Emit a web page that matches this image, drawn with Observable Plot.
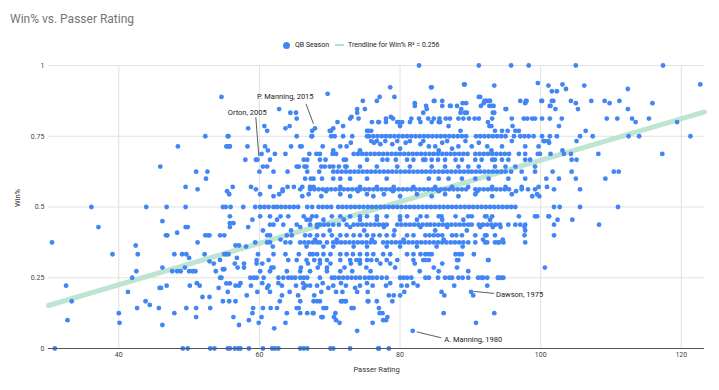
<!DOCTYPE html>
<html><head><meta charset="utf-8">
<script src="https://cdn.jsdelivr.net/npm/d3@7"></script>
<script src="https://cdn.jsdelivr.net/npm/@observablehq/plot@0.6"></script>
<style>
body{margin:0;background:#fff;font-family:Roboto,"Liberation Sans",Arial,sans-serif;}
#wrap{position:relative;width:719px;height:390px;overflow:hidden;background:#fff;}
#head{position:relative;width:719px;height:55px;}
#title{position:absolute;left:10px;top:12px;font-size:12px;color:#757575;line-height:14px;white-space:nowrap;}
#legend{position:absolute;left:283px;top:40px;height:10px;display:flex;align-items:center;font-size:7px;color:#222;white-space:nowrap;}
.ldot{width:7px;height:7px;border-radius:50%;background:#4285F4;margin-right:5px;}
.lline{width:9px;height:2.5px;background:#b7e1cd;margin:0 4px 0 6px;}
#chart svg{display:block;}
</style></head>
<body>
<div id="wrap">
  <div id="head">
    <div id="title">Win% vs. Passer Rating</div>
    <div id="legend"><span class="ldot"></span><span id="lg1"></span><span class="lline"></span><span id="lg2"></span></div>
  </div>
  <div id="chart"></div>
</div>
<script>
// ---- text ----
const titleText = "Win% vs. Passer Rating";
const seriesName = "QB Season";
const trendName = "Trendline for Win% R² = 0.256";
const xLabel = "Passer Rating";
const yLabel = "Win%";

// ---- axes ----
const xDomain = [30, 123.3];
const xTicks = [40, 60, 80, 100, 120];
const yTicks = [0, 0.25, 0.5, 0.75, 1];

// ---- trendline ----
const trendSlope = 0.00733;
const trendIntercept = -0.068;

// ---- annotated seasons ----
const annoNames = ["P. Manning, 2015", "Orton, 2005", "Dawson, 1975", "A. Manning, 1980"];
const annoRatings = [67.9, 59.7, 90.1, 81.8];
const annoWins = [0.778, 0.667, 0.2, 0.0625];

// ---- QB seasons: passer ratings grouped by win% ----
const w1000 = [82.7, 91.2, 95.8, 98.3, 105.0, 117.4];
const w0750 = [52.3, 55.5, 55.6, 65.3, 67.4, 67.5, 70.2, 70.7, 71.9, 73.2, 75.3, 75.6, 76.2, 76.8, 77.4, 78.0, 78.6, 79.2, 79.8, 80.4, 81.0, 81.6, 82.2, 82.8, 83.4, 84.0, 84.6, 85.2, 85.8, 86.4, 87.0, 87.6, 88.2, 88.8, 89.4, 90.8, 91.4, 92.0, 92.6, 93.2, 93.8, 94.4, 95.0, 96.2, 97.1, 97.7, 98.3, 99.0, 100.2, 101.3, 102.3, 105.6, 107.4, 112.5, 114.0, 121.3];
const w0688 = [60.3, 62.2, 63.7, 67.1, 68.1, 68.6, 70.4, 70.9, 73.4, 74.0, 74.6, 75.2, 75.8, 76.4, 77.0, 77.6, 78.2, 78.8, 79.4, 80.0, 80.6, 81.2, 81.8, 82.4, 83.0, 83.6, 84.2, 84.8, 85.4, 86.0, 86.6, 87.2, 87.8, 88.4, 89.0, 89.6, 90.7, 91.3, 91.9, 92.5, 93.1, 93.7, 94.3, 94.9, 95.5, 96.9, 97.8, 99.6, 99.9, 101.4, 103.3, 104.3, 108.2, 117.3];
const w0667 = [58.0, 59.5, 61.5, 66.3, 66.8, 68.6, 69.4, 72.0, 72.3, 75.3, 77.5, 78.2, 79.4, 81.0, 81.9, 83.3, 83.6, 84.5, 85.4, 86.4, 87.9, 88.8, 90.7, 91.6, 93.1, 93.5, 94.5, 95.4, 97.8, 98.5, 104.4, 105.1];
const w0643 = [45.9, 60.5, 61.1, 65.3, 65.6, 66.4, 66.7, 68.8, 69.3, 70.0, 70.5, 71.3, 72.2, 72.4, 74.3, 76.7, 79.6, 81.4, 84.5, 86.4, 88.3, 89.7, 91.2, 93.5, 95.0, 96.4, 99.2];
const w0625 = [51.0, 52.6, 60.0, 62.0, 64.0, 66.8, 68.5, 70.5, 71.1, 71.7, 72.3, 72.9, 73.5, 74.1, 74.7, 75.3, 75.9, 76.5, 77.1, 77.7, 78.3, 78.9, 79.5, 80.1, 80.7, 81.3, 81.9, 82.5, 83.1, 83.7, 84.3, 84.9, 85.5, 86.1, 86.7, 87.3, 87.9, 88.5, 89.1, 89.7, 90.2, 90.8, 91.4, 92.0, 92.6, 93.2, 93.8, 94.4, 95.0, 95.8, 97.3, 99.2, 101.7, 104.4, 110.4, 111.1];
const w0600 = [52.4, 66.5, 67.3, 67.7, 68.9, 70.5, 71.5, 72.9, 75.3, 78.1, 84.1, 85.5, 86.9, 88.8, 90.7, 92.6, 95.4, 97.8, 100.8, 102.6, 105.0, 109.2];
const w0571 = [49.5, 56.2, 58.8, 61.5, 64.0, 64.9, 66.1, 67.2, 67.7, 71.5, 74.3, 76.7, 79.1, 81.9, 85.0, 87.4, 89.7, 93.1, 95.0, 97.3, 99.7, 100.9];
const w0563 = [51.2, 59.5, 63.3, 65.8, 67.2, 67.8, 68.4, 69.0, 69.6, 70.2, 70.8, 71.4, 72.0, 72.6, 73.2, 73.8, 74.4, 75.0, 75.6, 76.2, 76.8, 77.4, 78.0, 78.6, 79.2, 79.8, 80.4, 81.0, 81.6, 82.2, 82.8, 83.4, 84.0, 84.6, 85.2, 85.8, 86.4, 87.0, 87.6, 88.2, 88.8, 89.4, 90.7, 91.3, 91.9, 92.5, 93.1, 93.7, 94.3, 94.9, 95.5, 97.3, 98.2, 99.2, 101.9, 105.6];
const w0556 = [55.4, 63.3, 69.5, 74.0, 79.0, 85.5, 91.0, 96.5];
const w0545 = [55.7, 60.1, 62.8, 67.0, 71.5, 75.3, 77.7, 82.4, 86.4, 90.7, 95.9, 99.5];
const w0538 = [62.0, 66.1, 68.8, 72.9, 76.2, 80.0, 84.5, 88.3, 93.1, 98.8, 99.8];
const w0500 = [36.1, 43.9, 46.8, 49.5, 54.8, 55.2, 55.9, 57.7, 59.4, 60.1, 60.7, 61.3, 62.0, 62.5, 63.1, 63.7, 64.3, 64.9, 65.5, 66.8, 67.5, 68.4, 69.0, 69.6, 70.2, 71.2, 71.8, 72.4, 73.0, 73.6, 74.2, 74.8, 75.4, 76.0, 76.6, 77.2, 77.8, 78.4, 79.0, 79.6, 80.2, 80.8, 81.4, 82.0, 82.6, 83.2, 83.8, 84.4, 85.0, 85.6, 86.2, 86.8, 87.4, 88.0, 88.6, 89.2, 89.8, 90.4, 91.0, 91.6, 92.2, 92.8, 93.4, 94.0, 94.6, 95.2, 95.8, 96.4, 101.9, 102.7, 105.6, 111.0];
const w0467 = [60.1, 61.5, 63.0, 64.1, 66.3, 67.5, 68.1, 70.3, 71.5, 72.9, 74.3, 75.3, 76.7, 78.1, 80.0, 81.0, 82.9, 83.8, 85.5, 85.9, 87.9, 89.7, 90.2, 92.1, 92.3, 93.1, 96.9, 99.2, 99.5, 101.1, 101.2];
const w0455 = [59.0, 62.5, 66.7, 67.2, 69.1, 72.0, 74.3, 76.7, 80.0, 82.4, 86.0, 89.0, 92.8, 102.4, 104.5];
const w0438 = [61.5, 62.0, 63.4, 65.3, 67.2, 68.2, 68.6, 69.2, 69.8, 70.5, 71.3, 72.4, 73.4, 74.0, 74.6, 75.2, 75.8, 76.4, 77.0, 77.6, 78.1, 79.6, 80.2, 80.8, 81.4, 82.0, 82.6, 83.2, 83.8, 84.3, 84.9, 85.5, 86.1, 86.7, 87.3, 87.9, 88.5, 89.1, 89.7, 90.2, 91.2, 91.8, 92.4, 93.0, 93.6, 94.2, 95.4, 96.4, 97.1, 97.8, 101.9, 108.3];
const w0429 = [58.4, 65.8, 68.2, 72.9, 77.7, 82.9, 86.7, 91.4, 93.2, 94.3, 97.7];
const w0417 = [60.5, 64.5, 70.0, 74.9, 79.2, 85.0, 89.5, 97.8];
const w0400 = [61.1, 61.5, 63.9, 64.6, 66.5, 67.2, 68.2, 69.1, 70.3, 71.5, 72.4, 73.4, 74.3, 75.3, 76.2, 77.1, 78.1, 79.1, 81.0, 81.9, 83.6, 84.2, 84.8, 85.4, 86.0, 87.4, 88.0, 88.8, 90.7, 92.1, 92.3, 93.5, 97.7, 101.9];
const w0385 = [63.0, 67.9, 71.0, 76.0, 80.5, 86.2, 91.8, 94.6];
const w0375 = [59.4, 61.1, 61.5, 63.7, 64.4, 65.8, 66.4, 67.0, 67.6, 68.2, 68.6, 69.6, 70.5, 71.0, 71.6, 72.2, 72.8, 73.4, 74.0, 74.6, 75.2, 75.8, 76.4, 77.6, 78.2, 78.8, 79.4, 80.0, 80.6, 81.2, 81.8, 82.4, 83.0, 83.6, 84.2, 84.8, 85.4, 86.0, 86.6, 87.2, 87.8, 88.4, 89.0, 89.7, 90.7, 92.1, 92.4, 93.5, 93.9, 94.1, 94.7, 97.8];
const w0360 = [58.1, 61.9, 66.7, 69.1, 70.5, 73.4, 75.3, 78.1, 80.0, 82.4, 85.2, 88.9];
const w0333 = [59.8, 62.0, 63.7, 65.6, 67.2, 67.6, 68.2, 69.1, 70.1, 71.5, 72.4, 73.3, 74.3, 75.3, 76.2, 77.6, 78.6, 81.0, 81.9, 82.9, 83.6, 84.1, 84.5, 87.9, 88.4, 88.8, 90.5];
const w0313 = [59.6, 61.3, 64.1, 65.3, 66.7, 67.8, 68.6, 69.6, 71.5, 72.9, 73.8, 74.3, 75.3, 75.9, 76.7, 78.1, 79.6, 81.9, 83.3, 83.6, 84.1, 88.1, 88.3, 92.5, 92.6];
const w0300 = [57.8, 59.6, 60.4, 66.9, 68.6, 70.1, 73.0, 74.3, 77.2, 78.6, 82.1, 86.0];
const w0286 = [57.8, 61.7, 62.0, 65.9, 68.3, 69.6, 72.1, 75.2, 79.3, 84.8, 88.1, 100.6];
const w0273 = [60.1, 61.5, 63.9, 65.8, 67.2, 69.6, 71.5, 73.2, 75.8, 82.8, 85.5, 89.7];
const w0250 = [58.7, 59.2, 59.6, 60.6, 62.7, 63.4, 64.1, 64.6, 65.1, 65.8, 66.3, 66.8, 68.6, 70.3, 70.7, 71.3, 71.9, 72.5, 73.1, 73.7, 74.3, 75.0, 75.6, 76.1, 76.7, 77.4, 78.1, 80.0, 80.5, 81.0, 81.6, 83.6, 84.1, 85.4, 86.4, 87.0, 87.4, 88.3, 88.9, 89.7, 91.1, 91.6, 91.8, 92.4, 93.9, 94.0, 94.4, 94.7];
const w0231 = [57.3, 60.4, 62.7, 66.2, 69.0, 71.6, 75.3, 78.6, 81.9];
const w0222 = [58.8, 61.3, 63.2, 65.2, 66.6, 67.2, 68.2, 70.5, 72.3, 74.3, 76.1, 78.0, 80.2, 81.0, 82.5, 87.7, 92.4];
const w0214 = [61.1, 66.3, 69.8, 73.6];
const w0200 = [59.7, 61.5, 64.3, 68.8, 70.9, 71.8, 73.9, 75.4, 80.6, 85.9];
const w0188 = [58.2, 63.2, 65.5, 67.8, 78.4, 79.1, 80.0, 86.3, 90.4];
const w0167 = [62.9, 65.8, 67.7, 68.2, 68.6, 71.6, 71.8, 72.2, 72.3, 75.4, 75.5, 76.7, 78.9];
const w0143 = [59.1, 60.5, 61.6, 62.5, 65.3, 65.6, 69.1, 69.5, 73.1, 73.4, 77.0];
const w0125 = [59.0, 63.9, 65.8, 66.8, 67.6, 67.7, 70.8, 77.1, 77.5, 86.2, 93.4];
const w0111 = [60.3, 68.8, 68.9, 69.0, 70.6, 78.2];
const w0100 = [58.5, 70.9, 77.6, 78.0];
const w0091 = [59.9, 63.7, 71.4, 76.1, 90.8];
const w0071 = [62.1];
const w0063 = [73.9];
const w0000 = [57.3, 58.5, 60.5, 61.8, 62.2, 62.7, 65.8, 66.3, 66.8, 70.1, 70.5, 72.9, 76.9, 77.0, 78.4];

const rowWins = [1, 0.75, 0.6875, 0.667, 0.643, 0.625, 0.6, 0.571, 0.5625, 0.556, 0.545, 0.538, 0.5, 0.467, 0.455, 0.4375, 0.429, 0.417, 0.4, 0.385, 0.375, 0.36, 0.333, 0.3125, 0.3, 0.286, 0.273, 0.25, 0.231, 0.222, 0.214, 0.2, 0.1875, 0.167, 0.143, 0.125, 0.111, 0.1, 0.0909, 0.0714, 0.0625, 0];
const rowRatings = [w1000, w0750, w0688, w0667, w0643, w0625, w0600, w0571, w0563, w0556, w0545, w0538, w0500, w0467, w0455, w0438, w0429, w0417, w0400, w0385, w0375, w0360, w0333, w0313, w0300, w0286, w0273, w0250, w0231, w0222, w0214, w0200, w0188, w0167, w0143, w0125, w0111, w0100, w0091, w0071, w0063, w0000];

// [rating, win%] seasons off the main rows, upper part
const upperSeasons = [[54.6,0.889],[69.7,0.9],[62.8,0.846],[64.4,0.833],[65.2,0.833],[65.3,0.8125],[58.4,0.778],[60.7,0.786],[61.1,0.769],[63.7,0.778],[64.3,0.786],[67.5,0.769],[70.0,0.769],[70.5,0.778],[70.2,0.769],[71.1,0.8],[71.9,0.786],[72.9,0.8125],[73.1,0.818],[73.9,0.846],[73.9,0.833],[74.7,0.875],[75.0,0.846],[74.1,0.8125],[77.1,0.889],[76.7,0.875],[78.6,0.923],[79.2,0.889],[78.0,0.8125],[79.0,0.8125],[79.6,0.8],[80.3,0.8],[76.9,0.8],[76.0,0.8],[75.3,0.769],[75.5,0.769],[75.9,0.769],[78.7,0.818],[79.8,0.8],[80.0,0.786],[81.4,0.8],[81.6,0.8125],[82.7,0.8125],[82.1,0.867],[82.1,0.857],[83.7,0.857],[83.8,0.846],[82.9,0.8],[84.5,0.923],[89.1,0.933],[83.3,0.833],[84.8,0.875],[86.0,0.875],[87.1,0.857],[88.1,0.857],[88.7,0.846],[89.4,0.867],[88.6,0.833],[84.0,0.8125],[84.8,0.8125],[85.6,0.8125],[86.5,0.8125],[87.1,0.8125],[88.3,0.8125],[89.0,0.8125],[89.8,0.8125],[90.6,0.8125],[91.2,0.8125],[91.9,0.867],[92.4,0.875],[84.4,0.923],[89.2,0.933],[93.4,0.929],[99.6,0.938],[101.1,0.929],[101.6,0.909],[84.9,0.875],[86.0,0.857],[87.2,0.857],[88.9,0.867],[89.2,0.833],[89.5,0.833],[91.5,0.857],[92.1,0.875],[92.7,0.875],[93.1,0.857],[93.4,0.833],[95.0,0.846],[97.1,0.875],[97.9,0.875],[97.8,0.867],[100.2,0.875],[101.3,0.857],[101.8,0.875],[102.3,0.909],[103.1,0.933],[103.6,0.917],[106.2,0.929],[112.4,0.917],[122.7,0.933],[91.4,0.889],[91.2,0.889],[92.0,0.875],[92.8,0.875],[93.3,0.857],[92.7,0.857],[93.2,0.833],[93.1,0.8125],[95.1,0.846],[98.0,0.875],[100.1,0.875],[101.4,0.857],[101.6,0.875],[102.1,0.846],[104.3,0.875],[105.0,0.867],[105.3,0.846],[107.2,0.875],[109.1,0.875],[109.8,0.867],[111.2,0.875],[112.4,0.846],[115.9,0.867],[109.4,0.8125],[110.9,0.8125],[113.0,0.8125],[113.5,0.8],[115.4,0.8125],[119.4,0.8],[106.4,0.769],[102.6,0.786],[103.0,0.8125],[101.3,0.8125],[100.2,0.8125],[95.9,0.8125],[97.6,0.8125],[98.1,0.8125],[98.8,0.8125],[99.2,0.8125],[84.5,0.8],[85.5,0.8],[85.7,0.8],[92.5,0.8],[86.9,0.786],[92.7,0.786],[93.0,0.786],[96.0,0.786],[88.6,0.769],[93.5,0.769],[94.5,0.769],[95.3,0.769],[96.4,0.769],[96.9,0.769],[77.0,0.8],[78.0,0.8]];

// [rating, win%] seasons between 0.7 and 0.74
const midSeasons = [[55.5,0.714],[55.8,0.714],[58.3,0.714],[60.8,0.714],[61.2,0.7],[64.5,0.714],[65.8,0.714],[66.0,0.714],[69.0,0.714],[70.5,0.7],[48.4,0.714],[55.3,0.714],[55.7,0.714],[71.5,0.714],[72.4,0.714],[74.3,0.7],[75.9,0.733],[76.3,0.727],[76.7,0.733],[77.2,0.722],[77.9,0.733],[78.9,0.722],[79.6,0.733],[80.8,0.727],[81.4,0.733],[82.9,0.722],[83.3,0.733],[84.1,0.714],[85.0,0.714],[86.0,0.727],[86.7,0.733],[87.4,0.706],[88.3,0.714],[89.3,0.733],[90.2,0.714],[91.2,0.727],[92.4,0.714],[94.5,0.714],[95.9,0.733],[97.8,0.714],[99.7,0.714],[100.4,0.733],[101.2,0.727],[100.6,0.733],[101.1,0.733],[105.1,0.733],[103.1,0.7],[73.0,0.727],[80.0,0.706],[85.5,0.7],[93.0,0.7]];

// [rating, win%] seasons with ratings under 57.5 and win% under 0.5
const lowLeftSeasons = [[30.5,0.375],[30.9,0],[32.5,0.222],[33.3,0.167],[32.7,0.1],[37.1,0.429],[39.1,0.333],[40.0,0.125],[40.1,0.0909],[41.3,0.2],[41.9,0.25],[42.4,0.364],[42.7,0.333],[42.5,0.273],[42.6,0.143],[43.8,0.167],[44.4,0.154],[45.7,0.143],[45.8,0.214],[46.0,0.214],[46.2,0.45],[46.2,0.286],[46.2,0.083],[46.7,0.4],[46.9,0.4],[46.8,0.222],[47.9,0.125],[47.6,0.273],[48.3,0.273],[48.8,0.273],[49.4,0.286],[47.9,0.333],[48.3,0.409],[49.0,0.333],[49.5,0.429],[49.8,0.429],[49.6,0.333],[50.0,0.32],[50.0,0.273],[50.5,0.273],[50.9,0.273],[50.1,0.222],[49.6,0.143],[49.1,0],[49.8,0],[51.2,0.375],[51.0,0.143],[51.0,0.111],[51.1,0.231],[51.5,0.222],[51.9,0.182],[52.2,0.333],[52.3,0.4],[52.7,0.4],[52.9,0.4],[52.9,0.308],[53.5,0.3],[52.9,0.182],[53.0,0.143],[53.0,0],[53.6,0],[53.8,0.273],[54.2,0.214],[54.4,0.313],[54.4,0.4],[55.0,0.4],[54.4,0.25],[54.6,0.25],[54.8,0.167],[54.8,0.28],[55.0,0.28],[55.0,0.333],[55.3,0.333],[55.6,0.333],[55.3,0.23],[55.8,0.23],[55.5,0.2],[55.7,0.167],[55.8,0.467],[55.8,0.443],[55.8,0.429],[56.3,0.443],[55.5,0],[55.8,0],[56.5,0],[57.0,0],[56.3,0.111],[56.6,0.364],[57.1,0.364],[56.8,0.32],[56.5,0.3],[56.9,0.286],[56.6,0.222],[57.1,0.222],[56.6,0.167],[57.1,0.083]];

// ---- build table ----
const seasons = [];
rowWins.forEach((w, i) => rowRatings[i].forEach(r => seasons.push({rating: r, win: w})));
for (const [r, w] of [...upperSeasons, ...midSeasons, ...lowLeftSeasons]) seasons.push({rating: r, win: w});
annoRatings.forEach((r, i) => seasons.push({rating: r, win: annoWins[i]}));
const trend = xDomain.map(x => ({x, y: trendIntercept + trendSlope * x}));

document.getElementById("title").textContent = titleText;
document.getElementById("lg1").textContent = seriesName;
document.getElementById("lg2").textContent = trendName;

const font = "Roboto, 'Liberation Sans', Arial, sans-serif";
const plot = Plot.plot({
  width: 719, height: 335,
  marginLeft: 48, marginRight: 15, marginTop: 10, marginBottom: 42,
  style: {fontFamily: font, fontSize: "7px", color: "#444", background: "#fff", overflow: "visible"},
  x: {domain: xDomain, ticks: xTicks},
  y: {domain: [0, 1], ticks: yTicks, tickFormat: d => String(d)},
  marks: [
    Plot.gridX(xTicks, {stroke: "#e2e2e2", strokeOpacity: 1, strokeWidth: 1}),
    Plot.gridY(yTicks.filter(d => d > 0), {stroke: "#e2e2e2", strokeOpacity: 1, strokeWidth: 1}),
    Plot.axisX(xTicks, {tickSize: 0, tickPadding: 4, fontSize: 7, fill: "#444", label: null}),
    Plot.axisY(yTicks, {tickSize: 0, tickPadding: 4, fontSize: 7, fill: "#444", label: null, tickFormat: d => String(d)}),
    Plot.text([xLabel], {frameAnchor: "bottom", dy: 23, fontSize: 7.5, fill: "#333", text: d => d}),
    Plot.text([yLabel], {frameAnchor: "left", dx: -31, rotate: -90, fontSize: 7.5, fill: "#333", text: d => d}),
    Plot.line(trend, {x: "x", y: "y", stroke: "#b7e1cd", strokeWidth: 5, strokeOpacity: 0.9}),
    Plot.dot(seasons, {x: "rating", y: "win", r: 2.4, fill: "#4285F4"}),
    Plot.ruleY([0], {stroke: "#555", strokeWidth: 1})
  ]
});
document.getElementById("chart").appendChild(plot);

// ---- annotations, positioned through the plot's own scales ----
const sx = plot.scale("x"), sy = plot.scale("y");
const annoLayout = [
  {tx: -57.6, ty: -31, l1: [-8.5, -24], l2: [-1, -4]},
  {tx: -29, ty: -47, l1: [-1, -42], l2: [2, -3]},
  {tx: 25.5, ty: 2.6, l1: [3, 0], l2: [23.5, 2]},
  {tx: 32, ty: 8.7, l1: [4.5, 1.5], l2: [29, 7.5]}
];
const svg = d3.select(plot);
const g = svg.append("g").attr("text-anchor", "start");
annoNames.forEach((name, i) => {
  const px = sx.apply(annoRatings[i]), py = sy.apply(annoWins[i]);
  const L = annoLayout[i];
  g.append("line")
    .attr("x1", px + L.l1[0]).attr("y1", py + L.l1[1])
    .attr("x2", px + L.l2[0]).attr("y2", py + L.l2[1])
    .attr("stroke", "#333").attr("stroke-width", 0.8);
  g.append("text")
    .attr("x", px + L.tx).attr("y", py + L.ty)
    .attr("dy", "0.35em")
    .attr("text-anchor", "start")
    .attr("font-family", font).attr("font-size", 7.5).attr("fill", "#222")
    .text(name);
});
</script>
</body></html>
